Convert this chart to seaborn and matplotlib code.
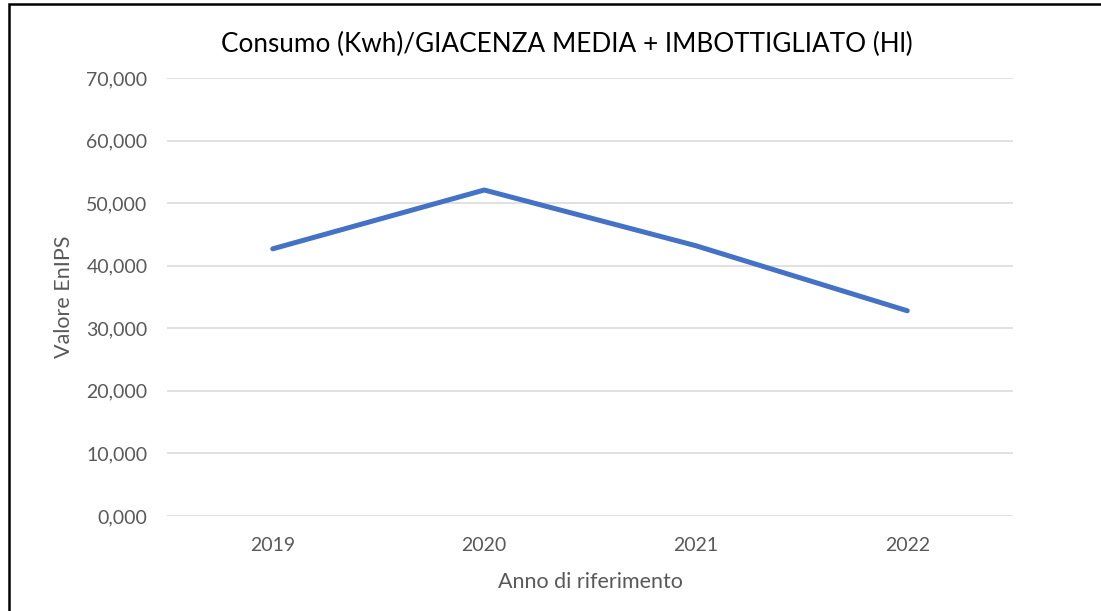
import matplotlib
matplotlib.use("Agg")
import matplotlib.pyplot as plt
import matplotlib.ticker as mticker
from matplotlib.patches import Rectangle
import pandas as pd
import seaborn as sns

# dati
anni = ["2019", "2020", "2021", "2022"]
valori = [42.7, 52.1, 43.2, 32.8]

df = pd.DataFrame({"Anno": anni, "EnIPS": valori})

sns.set_theme(style="white")
plt.rcParams['font.family'] = ['Lato', 'DejaVu Sans']

fig = plt.figure(figsize=(11.01, 6.11), dpi=100)
ax = fig.add_axes([167/1101, 95/611, 846/1101, 438/611])

sns.lineplot(data=df, x="Anno", y="EnIPS", ax=ax, color="#4472C4",
             linewidth=3.6, solid_capstyle="round", solid_joinstyle="round")

ax.set_xlim(-0.5, 3.5)
ax.set_ylim(0, 70)
ax.set_yticks(range(0, 71, 10))
ax.yaxis.set_major_formatter(mticker.FuncFormatter(lambda v, p: f"{v:.3f}".replace(".", ",")))
ax.grid(axis="y", color="#D9D9D9", linewidth=1.1)
ax.grid(axis="x", visible=False)
for s in ax.spines.values():
    s.set_visible(False)
ax.tick_params(axis="both", length=0, labelsize=14, labelcolor="#595959")
ax.tick_params(axis="y", pad=14)
ax.tick_params(axis="x", pad=15)

ax.set_xlabel("Anno di riferimento", fontsize=15.5, color="#595959", labelpad=13)
ax.set_ylabel("Valore EnIPS", fontsize=15.5, color="#595959", labelpad=9)

fig.text(567/1101, 1 - 44/611, "Consumo (Kwh)/GIACENZA MEDIA + IMBOTTIGLIATO (Hl)",
         ha="center", va="center", fontsize=18.8, color="#000000")

# cornice nera del riquadro
fig.patches.append(Rectangle((9/1101, -0.1), 1.2, 1 - 4/611 + 0.1, transform=fig.transFigure,
                             fill=False, edgecolor="black", linewidth=1.8))

fig.savefig("out.png", dpi=100)
